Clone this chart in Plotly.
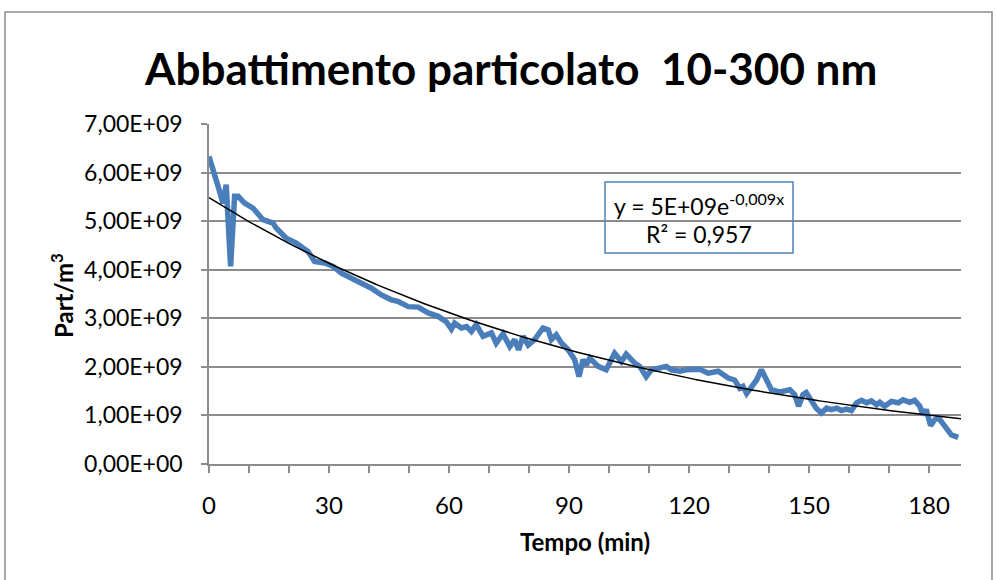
import numpy as np
import plotly.graph_objects as go

# Particle concentration (10-300 nm) over time
tempo_min = [0, 1.4, 2.3, 3.5, 4.3, 5.4, 6.4, 7.3, 8.9, 11, 13.5, 16, 16.8, 19.3, 21.8,
             24.8, 26.4, 28.9, 31, 33.1, 35.6, 38.1, 40.6, 43.1, 45.6, 47.2, 49.8, 52.3,
             54.8, 57.3, 59.3, 60.6, 61.4, 63.1, 64.4, 65.6, 66.8, 68.5, 70.6, 71.8, 73.5,
             75.2, 76.4, 77.4, 78.5, 79.8, 81.4, 83.5, 84.8, 85.6, 86.8, 88.1, 89.8, 91.4,
             92.5, 93.5, 94.3, 95.2, 97.3, 99.3, 101.4, 103.1, 104.3, 106.4, 107.7, 109.3,
             110.6, 112.7, 114.3, 115.6, 117.7, 119.3, 122.7, 124.8, 127.3, 129.8, 131.4,
             132.7, 133.5, 134.4, 135.6, 136.9, 138.1, 139.4, 140.6, 142.3, 143.1, 145.2,
             146.4, 147.4, 148.5, 149.3, 150.6, 151.8, 153.1, 154.4, 155.6, 156.9, 158.1,
             159.3, 160.6, 161.9, 163.1, 164.4, 165.6, 166.9, 167.7, 168.9, 170.6, 172.3,
             173.5, 175.2, 176.4, 177.7, 178.5, 179.3, 180.4, 181.4, 182.4, 183.9, 185.6,
             187.3]
part_e9 = [6.33, 5.99, 5.71, 5.37, 5.75, 4.07, 5.51, 5.51, 5.37, 5.27, 5.03, 4.96, 4.86,
           4.65, 4.55, 4.37, 4.17, 4.14, 4.07, 3.93, 3.83, 3.72, 3.62, 3.48, 3.38, 3.35,
           3.24, 3.23, 3.11, 3.04, 2.93, 2.78, 2.90, 2.80, 2.83, 2.73, 2.87, 2.63, 2.70,
           2.49, 2.68, 2.42, 2.56, 2.35, 2.63, 2.45, 2.56, 2.80, 2.76, 2.56, 2.66, 2.49,
           2.35, 2.15, 1.80, 2.15, 2.04, 2.18, 2.01, 1.94, 2.28, 2.11, 2.26, 2.08, 2.01,
           1.80, 1.94, 1.98, 2.01, 1.94, 1.91, 1.94, 1.95, 1.87, 1.91, 1.77, 1.73, 1.56,
           1.60, 1.45, 1.60, 1.73, 1.94, 1.73, 1.53, 1.49, 1.49, 1.53, 1.43, 1.19, 1.43,
           1.47, 1.32, 1.15, 1.05, 1.15, 1.12, 1.15, 1.10, 1.13, 1.10, 1.26, 1.31, 1.26,
           1.30, 1.22, 1.27, 1.19, 1.29, 1.26, 1.32, 1.27, 1.31, 1.19, 1.01, 1.12, 0.79,
           0.91, 0.95, 0.77, 0.60, 0.55]

x_major = [0, 30, 60, 90, 120, 150, 180]
y_ticks = [0, 1e9, 2e9, 3e9, 4e9, 5e9, 6e9, 7e9]
y_tick_labels = ["0,00E+00", "1,00E+09", "2,00E+09", "3,00E+09",
                 "4,00E+09", "5,00E+09", "6,00E+09", "7,00E+09"]

title_text = "Abbattimento particolato  10-300 nm"
x_title = "Tempo (min)"
y_title = "Part/m<sup>3</sup>"
eq_line = "y = 5E+09e<sup>-0,009x</sup>"
r2_line = "R² = 0,957"

t = np.array(tempo_min)
v = np.array(part_e9) * 1e9

# Exponential trendline: least squares on ln(y)
b, ln_a = np.polyfit(t, np.log(v), 1)
t_fit = np.linspace(0, 188, 200)
v_fit = np.exp(ln_a) * np.exp(b * t_fit)

W, H = 997, 580
ML, MR, MT, MB = 209, 36, 124, 116
PW, PH = W - ML - MR, H - MT - MB


def px(xp):
    return (xp - ML) / PW


def py(yp):
    return (H - MB - yp) / PH


FONT = "Lato"
GRID = "#8c8c8c"

fig = go.Figure()
fig.add_trace(go.Scatter(x=t, y=v, mode="lines",
                         line=dict(color="#4a7ebb", width=5.5),
                         hoverinfo="skip", showlegend=False))
fig.add_trace(go.Scatter(x=t_fit, y=v_fit, mode="lines",
                         line=dict(color="#000000", width=1.5),
                         hoverinfo="skip", showlegend=False))

fig.update_layout(
    width=W, height=H,
    margin=dict(l=ML, r=MR, t=MT, b=MB),
    paper_bgcolor="white", plot_bgcolor="white",
    font=dict(family=FONT, color="#000000"),
    showlegend=False,
    xaxis=dict(range=[0, 188], tickvals=x_major, ticktext=[str(x) for x in x_major],
               ticks="outside", ticklen=7, tickwidth=1.5, tickcolor=GRID,
               minor=dict(dtick=10, tick0=0, ticks="outside", ticklen=7,
                          tickwidth=1.5, tickcolor=GRID, showgrid=False),
               showgrid=False, zeroline=False,
               showline=True, linecolor=GRID, linewidth=1.5,
               ticklabelstandoff=12,
               tickfont=dict(size=24, family=FONT), fixedrange=True),
    yaxis=dict(range=[0, 7e9], tickvals=y_ticks, ticktext=y_tick_labels,
               ticks="outside", ticklen=6, tickwidth=1.5, tickcolor=GRID,
               showgrid=True, gridcolor=GRID, gridwidth=1.5, zeroline=False,
               showline=True, linecolor=GRID, linewidth=1.5,
               ticklabelstandoff=14,
               tickfont=dict(size=23, family=FONT), fixedrange=True),
)


def label(text, xp, yp, size, angle=0):
    fig.add_annotation(text=text, xref="paper", yref="paper",
                       x=px(xp), y=py(yp), xanchor="center", yanchor="middle",
                       showarrow=False, textangle=angle,
                       font=dict(size=size, family=FONT, color="#000000"))


label("<b>" + title_text + "</b>", 510, 68, 44)
label("<b>" + x_title + "</b>", 585, 541, 24)
label("<b>" + y_title + "</b>", 62, 296, 24, angle=-90)
label(eq_line, 699, 204, 23)
label(r2_line, 699, 234, 23)

# Equation box
fig.add_shape(type="rect", xref="paper", yref="paper",
              x0=px(605), x1=px(793), y0=py(253), y1=py(182),
              line=dict(color="#4f81bd", width=1.5), fillcolor="rgba(0,0,0,0)")
# Chart area border
fig.add_shape(type="rect", xref="paper", yref="paper",
              x0=px(5), x1=px(992), y0=py(590), y1=py(12),
              line=dict(color="#8c8c8c", width=1.5), fillcolor="rgba(0,0,0,0)")

fig.write_html("out.html")
